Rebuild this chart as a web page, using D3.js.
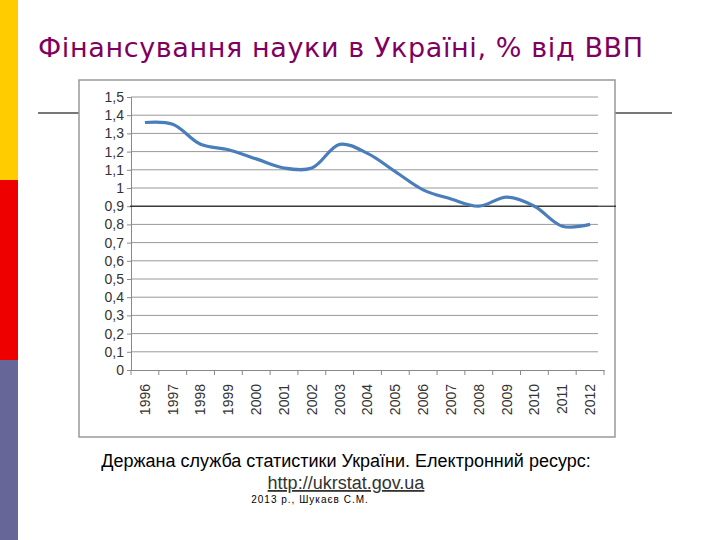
<!DOCTYPE html>
<html><head><meta charset="utf-8">
<script src="https://cdn.jsdelivr.net/npm/d3@7"></script>
<style>body{margin:0;background:#fff}</style></head>
<body><svg id="c" width="720" height="540"></svg>
<script>
const years = ["1996","1997","1998","1999","2000","2001","2002","2003","2004","2005","2006","2007","2008","2009","2010","2011","2012"];
const values = [1.36,1.35,1.24,1.21,1.16,1.11,1.11,1.24,1.19,1.09,0.99,0.94,0.90,0.95,0.90,0.79,0.80];
const yTicks = [0,0.1,0.2,0.3,0.4,0.5,0.6,0.7,0.8,0.9,1,1.1,1.2,1.3,1.4,1.5];

const svg = d3.select("#c");
// side bars
[["#FFCC00",0],["#EE0000",180],["#666699",360]].forEach(([c,y]) =>
  svg.append("rect").attr("x",0).attr("y",y).attr("width",18).attr("height",180).attr("fill",c));

svg.append("text").attr("x",38).attr("y",57).attr("font-family","DejaVu Sans")
  .attr("font-size",27).attr("textLength",605).attr("fill","#7F0060").text("Фінансування науки в Україні, % від ВВП");

svg.append("line").attr("x1",38).attr("x2",672).attr("y1",113).attr("y2",113)
  .attr("stroke","#777").attr("stroke-width",2);

svg.append("rect").attr("x",79).attr("y",80).attr("width",536).attr("height",357)
  .attr("fill","#fff").attr("stroke","#999").attr("stroke-width",1.5);

const x = d3.scaleBand().domain(years).range([131,604]);
const y = d3.scaleLinear().domain([0,1.5]).range([370,97]);
const g = svg.append("g").attr("font-family","Liberation Sans");

g.selectAll(".grid").data(yTicks.slice(1)).join("line")
  .attr("x1",131).attr("x2",598).attr("y1",d=>y(d)).attr("y2",d=>y(d))
  .attr("stroke","#999").attr("stroke-width",1);

const fmt = d => String(+d.toFixed(1)).replace(".",",");
const ya = g.append("g").attr("transform","translate(131,0)")
  .call(d3.axisLeft(y).tickValues(yTicks).tickFormat(fmt).tickSize(4));
ya.selectAll("text").attr("font-size",14).attr("fill","#333").attr("font-family","Liberation Sans");
ya.selectAll("path,line").attr("stroke","#888");

const xa = g.append("g").attr("transform","translate(0,370)")
  .call(d3.axisBottom(x).tickSize(0));
xa.select("path").attr("stroke","#888");
xa.selectAll(".b").data(d3.range(years.length+1)).join("line")
  .attr("x1",i=>131+i*x.step()).attr("x2",i=>131+i*x.step()).attr("y1",0).attr("y2",5).attr("stroke","#888");
xa.selectAll(".tick text").attr("font-size",14).attr("fill","#333").attr("font-family","Liberation Sans")
  .attr("transform","rotate(-90)").attr("text-anchor","end").attr("x",-14).attr("y",0).attr("dy","0.35em");

g.append("line").attr("x1",130).attr("x2",616).attr("y1",y(0.9)).attr("y2",y(0.9))
  .attr("stroke","#000").attr("stroke-width",1);

const line = d3.line().x((d,i)=>x(years[i])+x.bandwidth()/2).y(d=>y(d)).curve(d3.curveCatmullRom);
g.append("path").datum(values).attr("d",line).attr("fill","none")
  .attr("stroke","#4A7EBB").attr("stroke-width",3.2);

svg.append("text").attr("x",346).attr("y",467).attr("text-anchor","middle").attr("font-family","Liberation Sans")
  .attr("font-size",18).text("Держана служба статистики України. Електронний ресурс:");
svg.append("text").attr("x",346).attr("y",489).attr("text-anchor","middle").attr("font-family","Liberation Sans")
  .attr("font-size",18).attr("fill","#333").attr("text-decoration","underline").text("http://ukrstat.gov.ua");
svg.append("text").attr("x",310).attr("y",503).attr("text-anchor","middle").attr("font-family","Liberation Sans")
  .attr("font-size",10).attr("letter-spacing",1).text("2013 р., Шукаєв С.М.");
</script></body></html>
